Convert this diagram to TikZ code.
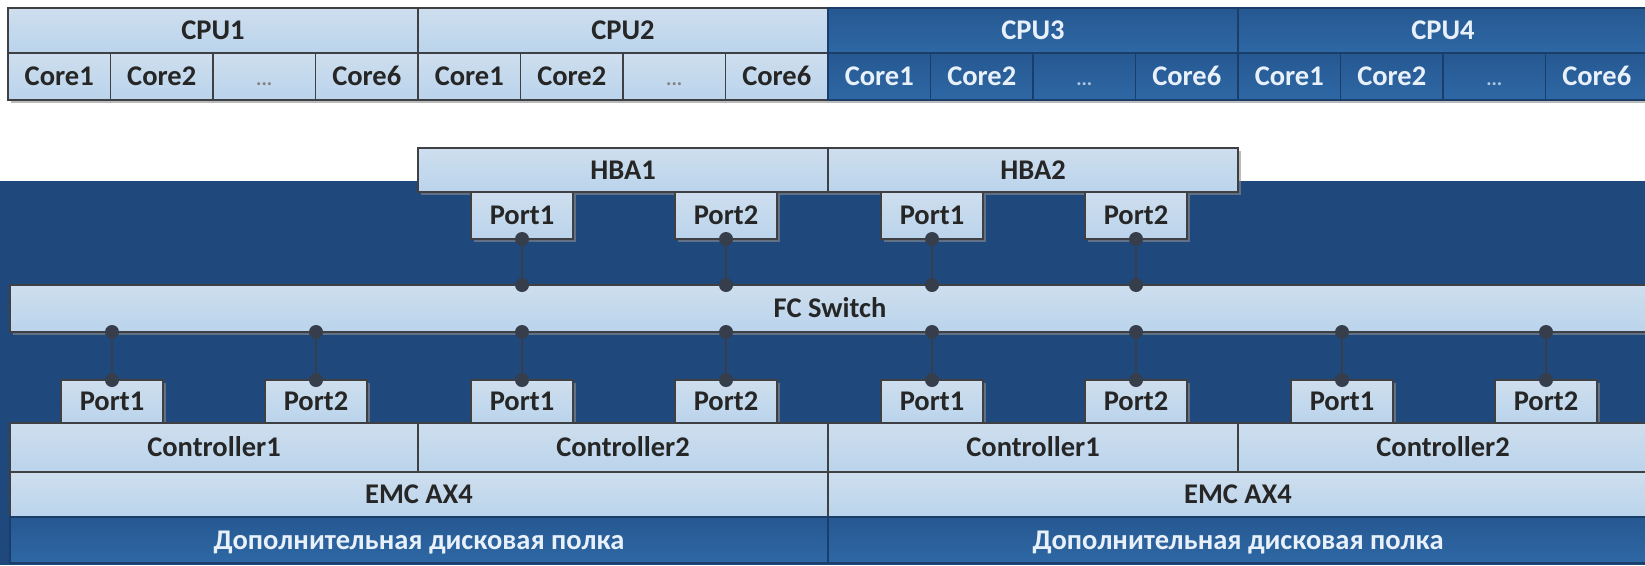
\documentclass[tikz,border=0pt]{standalone}
\usepackage{fontspec}
\setmainfont{Carlito}
\usetikzlibrary{shadows}
\definecolor{bgblue}{RGB}{31,72,124}
\definecolor{lite}{RGB}{186,212,236}
\definecolor{litetop}{RGB}{206,222,238}
\definecolor{midblue}{RGB}{46,104,165}
\definecolor{midtop}{RGB}{38,88,145}
\definecolor{edgec}{RGB}{62,64,68}
\definecolor{dotc}{RGB}{55,62,75}
\definecolor{whitetxt}{RGB}{232,240,250}
\tikzset{
  x=1pt, y=-1pt,
  box/.style={draw=edgec, line width=1.3pt, top color=litetop, bottom color=lite,
    text=black!85, font=\bfseries\fontsize{28.5}{32}\selectfont,
    inner sep=0pt, outer sep=0pt, text height=18pt, text depth=0pt},
  shbox/.style={box, drop shadow={shadow xshift=3pt, shadow yshift=-3pt, fill=black!45, opacity=.6}},
  dbox/.style={box, draw=bgblue!85!black, top color=midtop, bottom color=midblue, text=whitetxt},
  dshbox/.style={dbox, drop shadow={shadow xshift=3pt, shadow yshift=-3pt, fill=black!45, opacity=.6}},
  portbox/.style={shbox, minimum width=102pt},
  conn/.style={draw=dotc, line width=1.6pt},
  jdot/.style={circle, fill=dotc, minimum size=14pt, inner sep=0pt, outer sep=0pt},
}
\newcommand{\ellip}{{\fontsize{20}{22}\selectfont\color{gray}...}}
\newcommand{\ellipw}{{\fontsize{20}{22}\selectfont\color{whitetxt!70!midblue}...}}
\begin{document}
\begin{tikzpicture}
\useasboundingbox (0,0) rectangle (1645,565);
\fill[white] (0,0) rectangle (1645,565);
% dark background
\fill[bgblue] (0,181) rectangle (1645,565);

% CPU rows
\node[shbox, minimum width=410pt, minimum height=45pt] (cpu1) at (213,30.5) {CPU1};
\node[shbox, minimum width=410pt, minimum height=45pt] (cpu2) at (623,30.5) {CPU2};
\node[dshbox, minimum width=410pt, minimum height=45pt] (cpu3) at (1033,30.5) {CPU3};
\node[dshbox, minimum width=410pt, minimum height=45pt] (cpu4) at (1443,30.5) {CPU4};
\foreach \c/\x/\st/\el in {1/8/shbox/\ellip,2/418/shbox/\ellip,3/828/dshbox/\ellipw,4/1238/dshbox/\ellipw}{
  \foreach \k/\lbl in {0/Core1,1/Core2,2/\el,3/Core6}{
    \node[\st, minimum width=102.5pt, minimum height=47pt] (core\c\k) at ({\x+51.25+102.5*\k},76.5) {\lbl};
  }
}

% HBAs
\node[shbox, minimum width=410pt, minimum height=44pt] (hba1) at (623,170) {HBA1};
\node[shbox, minimum width=410pt, minimum height=44pt] (hba2) at (1033,170) {HBA2};
\node[portbox, minimum height=47pt] (hp1) at (522,215.5) {Port1};
\node[portbox, minimum height=47pt] (hp2) at (726,215.5) {Port2};
\node[portbox, minimum height=47pt] (hp3) at (932,215.5) {Port1};
\node[portbox, minimum height=47pt] (hp4) at (1136,215.5) {Port2};

% FC switch
\node[shbox, minimum width=1640pt, minimum height=47pt] (fc) at (830,308.5) {FC Switch};

% storage ports
\node[portbox, minimum height=43pt] (sp1) at (112,401.5) {Port1};
\node[portbox, minimum height=43pt] (sp2) at (316,401.5) {Port2};
\node[portbox, minimum height=43pt] (sp3) at (522,401.5) {Port1};
\node[portbox, minimum height=43pt] (sp4) at (726,401.5) {Port2};
\node[portbox, minimum height=43pt] (sp5) at (932,401.5) {Port1};
\node[portbox, minimum height=43pt] (sp6) at (1136,401.5) {Port2};
\node[portbox, minimum height=43pt] (sp7) at (1342,401.5) {Port1};
\node[portbox, minimum height=43pt] (sp8) at (1546,401.5) {Port2};

% controllers
\node[box, minimum width=408pt, minimum height=49pt] (ctl1) at (214,447.5) {Controller1};
\node[box, minimum width=410pt, minimum height=49pt] (ctl2) at (623,447.5) {Controller2};
\node[box, minimum width=410pt, minimum height=49pt] (ctl3) at (1033,447.5) {Controller1};
\node[box, minimum width=410pt, minimum height=49pt] (ctl4) at (1443,447.5) {Controller2};

% EMC
\node[box, minimum width=818pt, minimum height=45pt] (emc1) at (419,494.5) {EMC AX4};
\node[box, minimum width=820pt, minimum height=45pt] (emc2) at (1238,494.5) {EMC AX4};

% shelves
\node[dbox, minimum width=818pt, minimum height=46pt] (sh1) at (419,540) {Дополнительная дисковая полка};
\node[dbox, minimum width=820pt, minimum height=46pt] (sh2) at (1238,540) {Дополнительная дисковая полка};

% connectors HBA ports -> FC switch
\foreach \p in {hp1,hp2,hp3,hp4}{
  \draw[conn] (\p.south) -- (\p.south |- fc.north);
  \node[jdot] at (\p.south) {};
  \node[jdot] at (\p.south |- fc.north) {};
}
% connectors FC switch -> storage ports
\foreach \p in {sp1,sp2,sp3,sp4,sp5,sp6,sp7,sp8}{
  \draw[conn] (\p.north |- fc.south) -- (\p.north);
  \node[jdot] at (\p.north |- fc.south) {};
  \node[jdot] at (\p.north) {};
}
\end{tikzpicture}
\end{document}
